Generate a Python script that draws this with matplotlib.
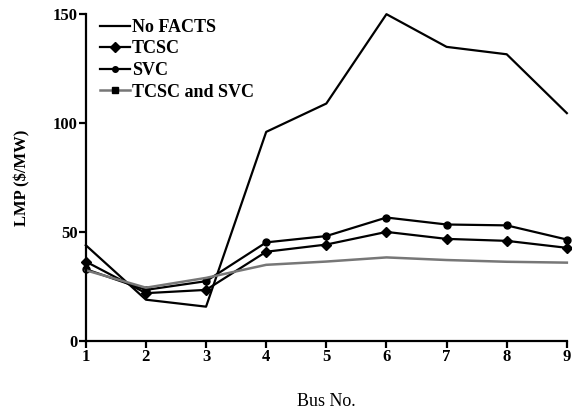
import matplotlib
matplotlib.use("Agg")
import matplotlib.pyplot as plt
from matplotlib.lines import Line2D

plt.rcParams['font.family'] = ['Liberation Serif', 'DejaVu Serif']

bus = [1, 2, 3, 4, 5, 6, 7, 8, 9]
no_facts = [44, 19, 15.8, 96, 109, 150, 135, 131.6, 104.6]
tcsc = [36.5, 22, 23.5, 41, 44.3, 50.1, 46.9, 46, 42.8]
svc = [33, 23.5, 27.5, 45.3, 48.2, 56.7, 53.5, 53.1, 46.6]
tcsc_svc = [32.5, 24.5, 29, 35, 36.5, 38.4, 37.2, 36.4, 36]

fig = plt.figure(figsize=(5.72, 4.17), dpi=100)
ax = fig.add_axes([0.150, 0.182, 0.841, 0.784])

ax.plot(bus, no_facts, color='black', lw=1.6, clip_on=False)
ax.plot(bus, tcsc, color='black', lw=1.6, marker='D', ms=5, clip_on=False)
ax.plot(bus, svc, color='black', lw=1.6, marker='o', ms=5, clip_on=False)
ax.plot(bus, tcsc_svc, color='#777777', lw=1.8, clip_on=False)

ax.set_xlim(1, 9)
ax.set_ylim(0, 150)
ax.set_xticks(bus)
ax.set_yticks([0, 50, 100, 150])
ax.spines['top'].set_visible(False)
ax.spines['right'].set_visible(False)
for s in ['left', 'bottom']:
    ax.spines[s].set_linewidth(1.6)
ax.tick_params(direction='out', length=5, width=1.6, labelsize=12)
for lab in ax.get_xticklabels() + ax.get_yticklabels():
    lab.set_fontweight('bold')
ax.tick_params(axis='x', pad=1)
ax.tick_params(axis='y', pad=1)

ax.set_xlabel('Bus No.', fontsize=13, labelpad=20)
ax.set_ylabel('LMP ($/MW)', fontsize=12, fontweight='bold', labelpad=16)

handles = [
    Line2D([], [], color='black', lw=1.6),
    Line2D([], [], color='black', lw=1.6, marker='D', ms=5),
    Line2D([], [], color='black', lw=1.6, marker='o', ms=4),
    Line2D([], [], color='#777777', lw=1.8, marker='s', ms=4, mfc='black', mec='black'),
]
labels = ['No FACTS', 'TCSC', 'SVC', 'TCSC and SVC']
ax.legend(handles, labels, loc='upper left', bbox_to_anchor=(-0.005, 1.035), frameon=False,
          handlelength=1.7, handletextpad=0.1, labelspacing=0.25,
          prop={'size': 13, 'weight': 'bold'})

fig.savefig('out.png', dpi=100)
